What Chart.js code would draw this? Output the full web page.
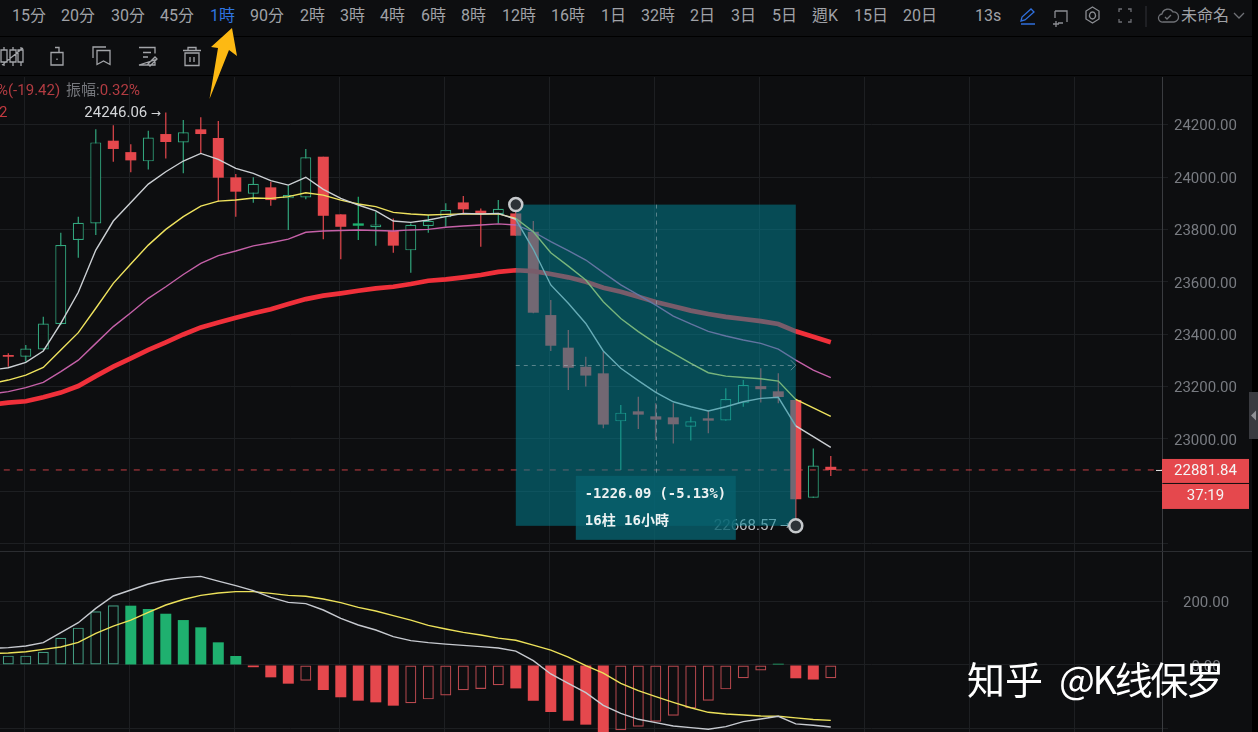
<!DOCTYPE html>
<html><head><meta charset="utf-8">
<script src="https://cdn.jsdelivr.net/npm/chart.js@4"></script>
<style>
html,body{margin:0;padding:0;background:#0d0e10;width:1258px;height:732px;overflow:hidden}
canvas{position:absolute;left:0;display:block}
.t{position:absolute;top:6px;font:16px/20px Roboto,"Noto Sans CJK TC",sans-serif;color:#a0a2a7;white-space:nowrap}
.l{position:absolute;font:15px/18px Roboto,"Noto Sans CJK TC",sans-serif;white-space:nowrap}
.sep{position:absolute;left:0;width:1252px;height:1px;background:#000}
.wm{position:absolute;top:653px;font:38px/50px "Noto Sans CJK SC",sans-serif;color:#fff;white-space:nowrap}
svg{position:absolute;left:0;top:0}
</style></head><body>
<canvas id="price" width="1258" height="474" style="top:77px;width:1258px;height:474px"></canvas>
<canvas id="macd" width="1258" height="180" style="top:552px;width:1258px;height:180px"></canvas>
<div id="bar"></div>
<div class="sep" style="top:36px"></div><div class="sep" style="top:75px"></div>
<div class="sep" style="top:551px;background:#2b2d31"></div>
<div class="l" style="left:-3px;top:81px;color:#b23c42">%(-19.42)</div>
<div class="l" style="left:66px;top:81px;color:#74767b">振幅:<span style="color:#b23c42">0.32%</span></div>
<div class="l" style="left:-1px;top:103px;color:#c23a40">2</div>
<svg width="1258" height="732" fill="none" stroke="#a3a5a9" stroke-width="1.3">
 <g>
  <path d="M4 47v3M4 62v4M1 50h6v12H1zM13 47v3M13 62v4M10 50h6v12h-6zM21 47v3M21 62v4M18 50h5v12h-5zM2 65L23 48"/>
  <path d="M51 52.500h12v12.500H51zM55 47.500h4v5M57 58.500v1.500"/>
  <path d="M93 58V47h13M97 50.500h13v14l-6.500-3.500-6.500 3.500z"/>
  <path d="M139 47.500h16v6M155 60v5h-16zM143 52.500h8M143 57h5M148 64l7-7 2 2-7 7z"/>
  <path d="M183 50.500h18M188 50.500v-3h8v3M185 53h14v12.500H185zM190 57v5M194 57v5"/>
 </g>
 <path d="M1021 24h14M1021 21l1-4 9-8 3 3-9 8z" stroke="#2f6fdc"/>
 <path d="M1055 11h12v11M1055 11v7M1058 23h5M1053 24h6M1056 21v6" stroke="#8b8d92"/>
 <path d="M1092.500 7l6.500 4v8l-6.500 4-6.500-4v-8zM1092.500 12a3 3.500 0 1 0 .01 0" stroke="#8b8d92"/>
 <path d="M1119 12V9h3M1128 9h3v3M1119 19v3h3M1128 22h3v-3" stroke="#6d6f74"/>
 <path d="M1146 6v21" stroke="#2a2c30"/>
 <path d="M1163 22a4 4 0 0 1-1-8 6 6 0 0 1 11-2 5 5 0 0 1 1 10zM1165 17l2 2 4-4" stroke="#6f7176"/>
 <path d="M1234 13l5 5 5-5" stroke="#6f7176"/>
 <path d="M232 28L237 56 229 50 209.500 99 218 48 211 47z" fill="#fdb913" stroke="none"/>
</svg>
<div class="wm" style="left:967px">知乎</div>
<div class="wm" style="left:1059px;letter-spacing:-2.400px">@K线保罗</div>
<div style="position:absolute;left:1252px;top:0;width:6px;height:732px;background:#000"></div>
<div style="position:absolute;left:1249px;top:392px;width:9px;height:47px;background:#3a3b40"></div>
<svg width="1258" height="732" style="pointer-events:none"><path d="M1251 415.500l5-5v10z" fill="#8f9095"/></svg>
<script>
// ---- toolbar ----
const toolbarLabels = ["15分","20分","30分","45分","1時","90分","2時","3時","4時","6時","8時","12時","16時","1日","32時","2日","3日","5日","週K","15日","20日","13s","未命名"];
const toolbarLeft   = [12,61,111,160,210,250,300,340,380,421,461,502,551,601,641,690,731,772,812,854,903,975,1181];
const activeToolbar = "1時";

// ---- price pane: one entry per hourly candle ----
const opens  = [23320.5,23314,23342,23439,23759.5,23823,24138.6,24095,24059.7,24164,24132,24182,24148.8,23998.7,23936,23960.5,23918.5,23922,24077.5,23857.4,23814,23808,23794,23720,23813,23846,23903,23871.5,23859,23861,23791,23473,23348.6,23276,23250.6,23067.4,23105.6,23086.5,23082.7,23047,23079,23071,23136,23202,23182,23149,22776,22894];
const closes = [23314,23345,23441,23740,23825.6,24132,24107,24063.5,24151,24133.5,24170.4,24164,23997.4,23944,23974.5,23912,23931,24075,23852,23810,23823,23819,23738,23818,23833,23874,23876.6,23859,23879,23776,23482,23356,23272,23242,23055,23100.5,23093,23074,23056,23067.4,23070,23152.7,23206,23190,23160.3,22769.7,22899,22881.84];
const highs  = [23327,23359,23467,23787,23848.5,24182,24198,24124.6,24177,24246.06,24217.5,24227.7,24213.7,24011.4,23998.7,23982,23969,24107,24077.5,23857.4,23925,23867.6,23842,23823,23855,23899.5,23927.5,23880,23912,23894.66,23832,23530.5,23416,23314,23333,23130,23161.6,23136,23136,23085,23110.7,23193.4,23225,23270,23250.6,23151.4,22964,22935];
const lows   = [23276,23295,23340,23435,23692,23778.5,24058.5,24018,24029,24071,24014,24090,23905.8,23848.5,23902,23890.5,23797.6,23914.7,23762,23686,23759.5,23738,23711,23635,23787.5,23810,23861,23734,23823,23776,23480,23336,23187,23200,23041,22881.7,23038,22996,22983,22994,23022,23070,23123,23139,23136,22668.57,22776,22859];
const filledUpCandles = [20];

// moving averages: first value lies one candle left of the first candle
const maWhite  = [23263,23272,23292.5,23336,23441,23560,23721,23832,23903,23973,24020,24061,24090,24067,24033,24014,23986,23969,23999,23953,23918.5,23893,23871,23832,23827,23836,23849,23861,23859,23861,23838,23724,23588,23518,23441,23336,23270,23223,23178,23142,23123,23107,23123,23142,23155,23159,23050,23009,22968];
const maYellow = [23212,23225,23244,23273,23340,23406,23499,23594,23668,23740,23800,23848.5,23889,23908,23912,23920,23918.5,23925,23940,23931,23912,23897,23887,23865,23859,23855,23857.5,23859,23859,23859,23842,23791,23711,23660,23607,23524,23460,23410,23365,23327,23289,23253,23240,23235,23230,23221,23151,23119,23086];
const maPink   = [23172,23181,23196,23216,23257,23301,23365,23429,23482,23537,23581,23628,23670,23700,23717.5,23737,23749,23763,23789,23794,23796,23798,23796,23794,23798,23800,23808,23813,23817,23821,23817,23791,23753,23719,23683,23635,23588,23550,23511,23469,23439,23411,23393,23378,23365,23343,23301,23263,23234];
const maRed    = [23130,23139,23144,23159,23177,23202,23240,23276,23308,23340,23369,23399,23426,23445,23463,23480,23495,23515,23534,23547,23556,23566,23575,23581,23591.5,23604,23609,23617,23626,23638,23644,23641,23630,23617,23600,23577,23562,23543,23523,23507,23490,23477,23466,23458,23450,23439,23411,23390,23369];

const priceGridTicks  = [22600,22800,23000,23200,23400,23600,23800,24000,24200];
const priceTickLabels = [24200,24000,23800,23600,23400,23200,23000];
const lastPrice = 22881.84;
const countdown = "37:19";
const highIndex = 9,  highPrice = 24246.06;
const measureStartIndex = 29, measureStartPrice = 23894.66;
const measureEndIndex = 45,   measureEndPrice = 22668.57;
const measureLines = ["-1226.09 (-5.13%)","16柱 16小時"];

// ---- MACD pane ----
const histValues = [29.5,29.5,42,86,118,169.5,188.5,187.4,177,162,142,119,71.6,28.4,-7,-39,-59,-49.5,-79,-102,-112.7,-118,-128.5,-121,-108.5,-96,-80,-76,-64,-74,-113,-148.5,-176,-188.5,-225,-206,-195,-179,-160,-137,-113,-77,-42,-17,4,-42,-46,-42];
const histHollow = [0,1,2,3,4,5,6,17,23,24,25,26,27,28,35,36,37,38,39,40,41,42,43,47];
const macdLine   = [52.6,54.8,60,70.6,102,133.7,179,218,237,256,268.5,276,280,265,250.6,235,213.8,198,193.8,173.7,147.4,126.4,110.6,89.5,76.9,70.6,66,62,58,53.7,44,13.7,-28.4,-58,-87.4,-127.4,-152.7,-171.6,-182,-192.7,-198,-203,-194.8,-179,-170.6,-162,-186,-190.6,-196];
const signalLine = [35.8,37.9,42,49.5,56.9,71.6,100,123,142,166,189.5,207,220,227.4,231.7,231.7,226.4,220,217,208.5,197,182,170.6,155.8,142,125,113.7,103,94.8,85,78,63,47,25,-2,-26,-58,-81,-100,-118,-135,-149.5,-155,-158,-161,-162,-167,-172,-175];
const macdGridTicks  = [-200,0,200];
const macdTickLabels = [200,0];

// ---- vertical grid, in candle units ----
const gridIndex = [0.95,6.95,12.95,18.95,24.95,30.95,36.95,42.95,48.95,54.95,60.95];

// ---- colours ----
const BG="#0d0e10", UP="#32a67d", UPFILL="#1fb06f", DOWN="#e5484d", DOWNDIM="#b8484e", UPDIM="#429a80", GRID="#1d1f22", AXIS="#3a3c40", TICK="#787b81";

toolbarLabels.forEach((s,i)=>{
  const d=document.createElement('div');d.className='t';d.textContent=s;d.style.left=toolbarLeft[i]+'px';
  if(s===activeToolbar)d.style.color='#2f75e0';
  document.getElementById('bar').appendChild(d);
});

const idx = opens.map((_,i)=>i);
const isUp = i => closes[i]>=opens[i];
const candleColor = i => isUp(i)?(filledUpCandles.includes(i)?UPFILL:UP):DOWN;

function xAxis(){return {type:'linear',min:-0.474,max:65.926,offset:false,
  grid:{color:GRID,offset:false,drawTicks:false},border:{display:false},ticks:{display:false},
  afterBuildTicks:s=>{s.ticks=gridIndex.map(v=>({value:v}));}};}
function yAxis(min,max,gridTicks,labels,dec,pad){return {type:'linear',position:'right',min,max,
  grid:{color:GRID,tickLength:6,tickColor:GRID},border:{color:AXIS,display:true},
  afterBuildTicks:s=>{s.ticks=gridTicks.map(v=>({value:v}));},
  ticks:{crossAlign:'center',padding:pad,labelOffset:2,color:TICK,font:{family:'Roboto',size:15},
    callback:v=>labels.includes(v)?v.toFixed(dec):''},
  afterFit:s=>{s.width=96;s.paddingTop=0;s.paddingBottom=0;}};}

const maSet=(data,color,w,order)=>({type:'line',data:data.map((y,i)=>({x:i-1,y})),borderColor:color,borderWidth:w,pointRadius:0,tension:0,order});

const annotate={id:'annotate',afterDatasetsDraw(c){
  const {ctx,scales:{x,y}}=c;
  const xs=x.getPixelForValue(measureStartIndex), xe=x.getPixelForValue(measureEndIndex);
  const ys=y.getPixelForValue(measureStartPrice), ye=y.getPixelForValue(measureEndPrice);
  const xm=(xs+xe)/2, ym=(ys+ye)/2;
  ctx.save();
  // high label
  ctx.font='15px Roboto';ctx.textBaseline='middle';ctx.fillStyle='#d3d5d8';ctx.textAlign='right';
  const xh=x.getPixelForValue(highIndex), yh=y.getPixelForValue(highPrice);
  ctx.fillText(highPrice.toFixed(2),xh-18.500,yh+1);
  ctx.font='12px "DejaVu Sans"';ctx.textAlign='left';ctx.fillText('→',xh-15,yh+1);
  // low label
  ctx.font='15px Roboto';ctx.textAlign='right';ctx.fillStyle='#b7bcc0';
  ctx.fillText(measureEndPrice.toFixed(2),xe-19,ye);
  ctx.font='12px "DejaVu Sans"';ctx.textAlign='left';ctx.fillText('→',xe-16,ye);
  // measure box
  ctx.fillStyle='rgba(0,135,153,0.5)';ctx.fillRect(xs,ys,xe-xs,ye-ys);
  ctx.strokeStyle='rgba(170,190,195,0.5)';ctx.lineWidth=1;ctx.setLineDash([4,4]);
  ctx.beginPath();ctx.moveTo(xs,Math.round(ym)+.5);ctx.lineTo(xe,Math.round(ym)+.5);
  ctx.moveTo(Math.round(xm)+.5,ys);ctx.lineTo(Math.round(xm)+.5,ye-50);ctx.stroke();
  ctx.setLineDash([]);
  ctx.beginPath();ctx.moveTo(xe-5,ym-5);ctx.lineTo(xe,ym);ctx.lineTo(xe-5,ym+5);ctx.stroke();
  // measure label
  ctx.fillStyle='rgba(8,98,110,0.8)';ctx.fillRect(xm-80,ye-50,160,64);
  ctx.fillStyle='#eef3f3';ctx.textAlign='left';
  ctx.font='bold 13.800px "DejaVu Sans Mono"';ctx.fillText(measureLines[0],xm-71,ye-31.500);
  ctx.font='bold 14px "DejaVu Sans Mono","Noto Sans CJK TC"';ctx.fillText(measureLines[1],xm-71,ye-4.500);
  // end circles
  [[xs,ys],[xe,ye]].forEach(([a,b])=>{ctx.beginPath();ctx.arc(a,b,6.500,0,Math.PI*2);ctx.fillStyle='#2d3237';ctx.fill();ctx.lineWidth=2.500;ctx.strokeStyle='#c6c9cc';ctx.stroke();});
  // price tags
  const yp=y.getPixelForValue(lastPrice), r=c.chartArea.right;
  ctx.fillStyle='#e8e8e8';ctx.fillRect(r-6,yp,6,1);
  ctx.fillStyle=DOWN;ctx.fillRect(r,yp-11,87,24);ctx.fillRect(r,yp+14,87,25);
  ctx.fillStyle='#f4f4f4';ctx.textAlign='center';ctx.font='15px Roboto';
  ctx.fillText(lastPrice.toFixed(2),r+43.500,yp+1);ctx.fillText(countdown,r+43.500,yp+26.500);
  ctx.restore();
}};

new Chart(document.getElementById('price'),{type:'bar',
 data:{datasets:[
  maSet(maWhite,'#ccd0d4',1.4,1),maSet(maYellow,'#efe35e',1.4,1),maSet(maPink,'#c561a8',1.4,1),maSet(maRed,'#f0303a',4.7,1),
  {type:'line',data:[{x:-1,y:lastPrice},{x:66,y:lastPrice}],borderColor:'rgba(229,72,77,0.85)',borderWidth:1,borderDash:[6,7],pointRadius:0,order:0},
  {type:'bar',data:idx.map(i=>({x:i,y:[Math.min(opens[i],closes[i]),Math.max(opens[i],closes[i])]})),
   barThickness:11,grouped:false,borderSkipped:false,inflateAmount:0,order:2,
   backgroundColor:idx.map(i=>(isUp(i)&&!filledUpCandles.includes(i))?BG:candleColor(i)),
   borderColor:idx.map(candleColor),borderWidth:idx.map(i=>(isUp(i)&&!filledUpCandles.includes(i))?1.2:0)},
  {type:'bar',data:idx.map(i=>({x:i,y:[lows[i],highs[i]]})),barThickness:1.2,grouped:false,inflateAmount:0,borderWidth:0,order:3,
   backgroundColor:idx.map(candleColor)}
 ]},
 plugins:[annotate],
 options:{responsive:false,animation:false,devicePixelRatio:1,layout:{padding:0},
  plugins:{legend:{display:false},tooltip:{enabled:false}},
  scales:{x:xAxis(),y:yAxis(22572.5,24381.7,priceGridTicks,priceTickLabels,2,6)}}});

new Chart(document.getElementById('macd'),{type:'bar',
 data:{datasets:[
  maSet(macdLine,'#c7cad0',1.4,1),maSet(signalLine,'#ece15a',1.4,1),
  {type:'bar',data:idx.map(i=>({x:i,y:histValues[i]})),barThickness:11,grouped:false,borderSkipped:false,inflateAmount:0,order:2,
   backgroundColor:idx.map(i=>histHollow.includes(i)?'transparent':(histValues[i]>=0?UPFILL:DOWN)),
   borderColor:idx.map(i=>histValues[i]>=0?UPDIM:DOWNDIM),borderWidth:idx.map(i=>histHollow.includes(i)?1.2:0)}
 ]},
 options:{responsive:false,animation:false,devicePixelRatio:1,layout:{padding:0},
  plugins:{legend:{display:false},tooltip:{enabled:false}},
  scales:{x:xAxis(),y:yAxis(-211.7,357,macdGridTicks,macdTickLabels,2,15)}}});
</script>
</body></html>
